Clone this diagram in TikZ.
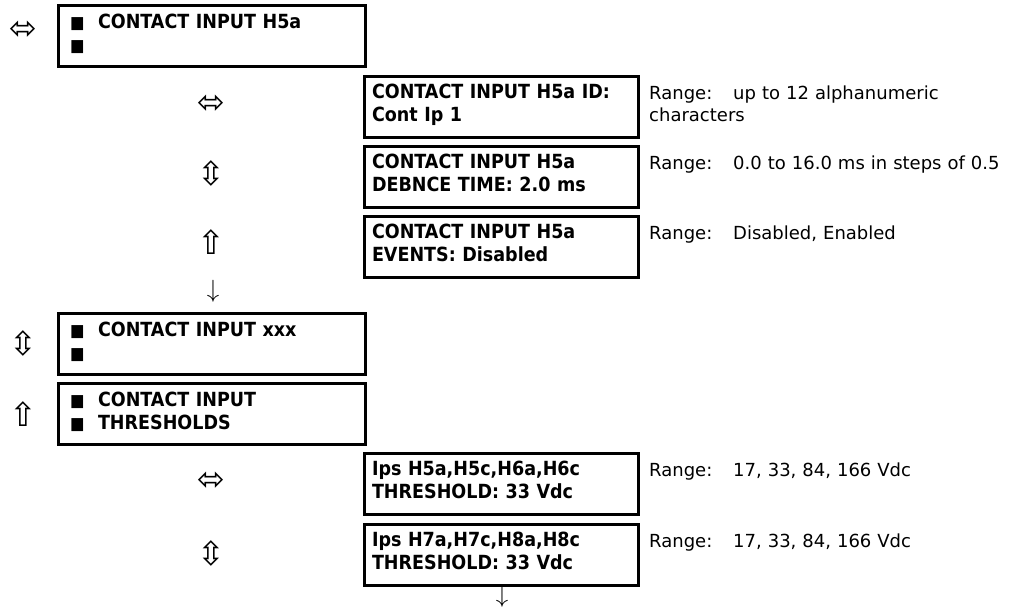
\documentclass[tikz,border=0pt]{standalone}
\usepackage{fontspec}
\setmainfont{DejaVu Sans}
\newfontfamily\cndfont{DejaVu Sans Condensed}
\newcommand\msq{\makebox[28pt][l]{\fontsize{17}{17}\selectfont ■}}
\newcommand\rlab{\makebox[84pt][l]{Range:}}
\begin{document}
\begin{tikzpicture}[x=1pt,y=-1pt,
menu/.style={draw,line width=3pt,outer sep=0,anchor=north west,minimum width=307pt,text width=283pt,inner xsep=12pt,inner ysep=9pt,text height=14pt,text depth=29pt,align=left,font=\cndfont\fontsize{19.5}{23}\selectfont\bfseries},
item/.style={draw,line width=3pt,outer sep=0,anchor=north west,minimum width=274pt,text width=258pt,inner xsep=8pt,inner ysep=8pt,text height=14pt,text depth=31pt,align=left,font=\cndfont\fontsize{19.5}{23}\selectfont\bfseries},
rng/.style={anchor=north west,inner sep=0,text height=13pt,text width=360pt,align=left,font=\fontsize{18}{22}\selectfont},
key/.style={inner sep=0,font=\fontsize{33}{33}\selectfont},nxt/.style={inner sep=0,font=\fontsize{24}{24}\selectfont}]
\useasboundingbox (0,0) rectangle (1017,606);
% menu headings
\node[menu] (cin) at (58,5) {\msq CONTACT INPUT H5a\\\msq};
\node[menu] (cxx) at (58,313) {\msq CONTACT INPUT xxx\\\msq};
\node[menu] (cth) at (58,383) {\msq CONTACT INPUT\\\msq THRESHOLDS};
% settings
\node[item] (cid) at (364,76) {CONTACT INPUT H5a ID:\\Cont Ip 1};
\node[item] (cdb) at (364,146) {CONTACT INPUT H5a\\DEBNCE TIME: 2.0 ms};
\node[item] (cev) at (364,216) {CONTACT INPUT H5a\\EVENTS: Disabled};
\node[item] (th1) at (364,453) {Ips H5a,H5c,H6a,H6c\\THRESHOLD: 33 Vdc};
\node[item] (th2) at (364,524) {Ips H7a,H7c,H8a,H8c\\THRESHOLD: 33 Vdc};
% ranges
\node[rng] (rid) at ([xshift=11pt,yshift=-10pt]cid.north east) {\rlab up to 12 alphanumeric\\characters};
\node[rng] (rdb) at ([xshift=11pt,yshift=-10pt]cdb.north east) {\rlab 0.0 to 16.0 ms in steps of 0.5};
\node[rng] (rev) at ([xshift=11pt,yshift=-10pt]cev.north east) {\rlab Disabled, Enabled};
\node[rng] (rt1) at ([xshift=11pt,yshift=-10pt]th1.north east) {\rlab 17, 33, 84, 166 Vdc};
\node[rng] (rt2) at ([xshift=11pt,yshift=-10pt]th2.north east) {\rlab 17, 33, 84, 166 Vdc};
% keys
\node[key] (k1) at (23,30) {⬄}; \node[key] (k2) at (211,104) {⬄}; \node[key] (k3) at (211,173) {⇳}; \node[key] (k4) at (211,242) {⇧};
\node[nxt] (n1) at (213,291) {$\downarrow$};
\node[key] (k5) at (23,343) {⇳}; \node[key] (k6) at (23,414) {⇧};
\node[key] (k7) at (211,481) {⬄}; \node[key] (k8) at (211,553) {⇳};
\node[nxt] (n2) at (502,596) {$\downarrow$};
\end{tikzpicture}
\end{document}
